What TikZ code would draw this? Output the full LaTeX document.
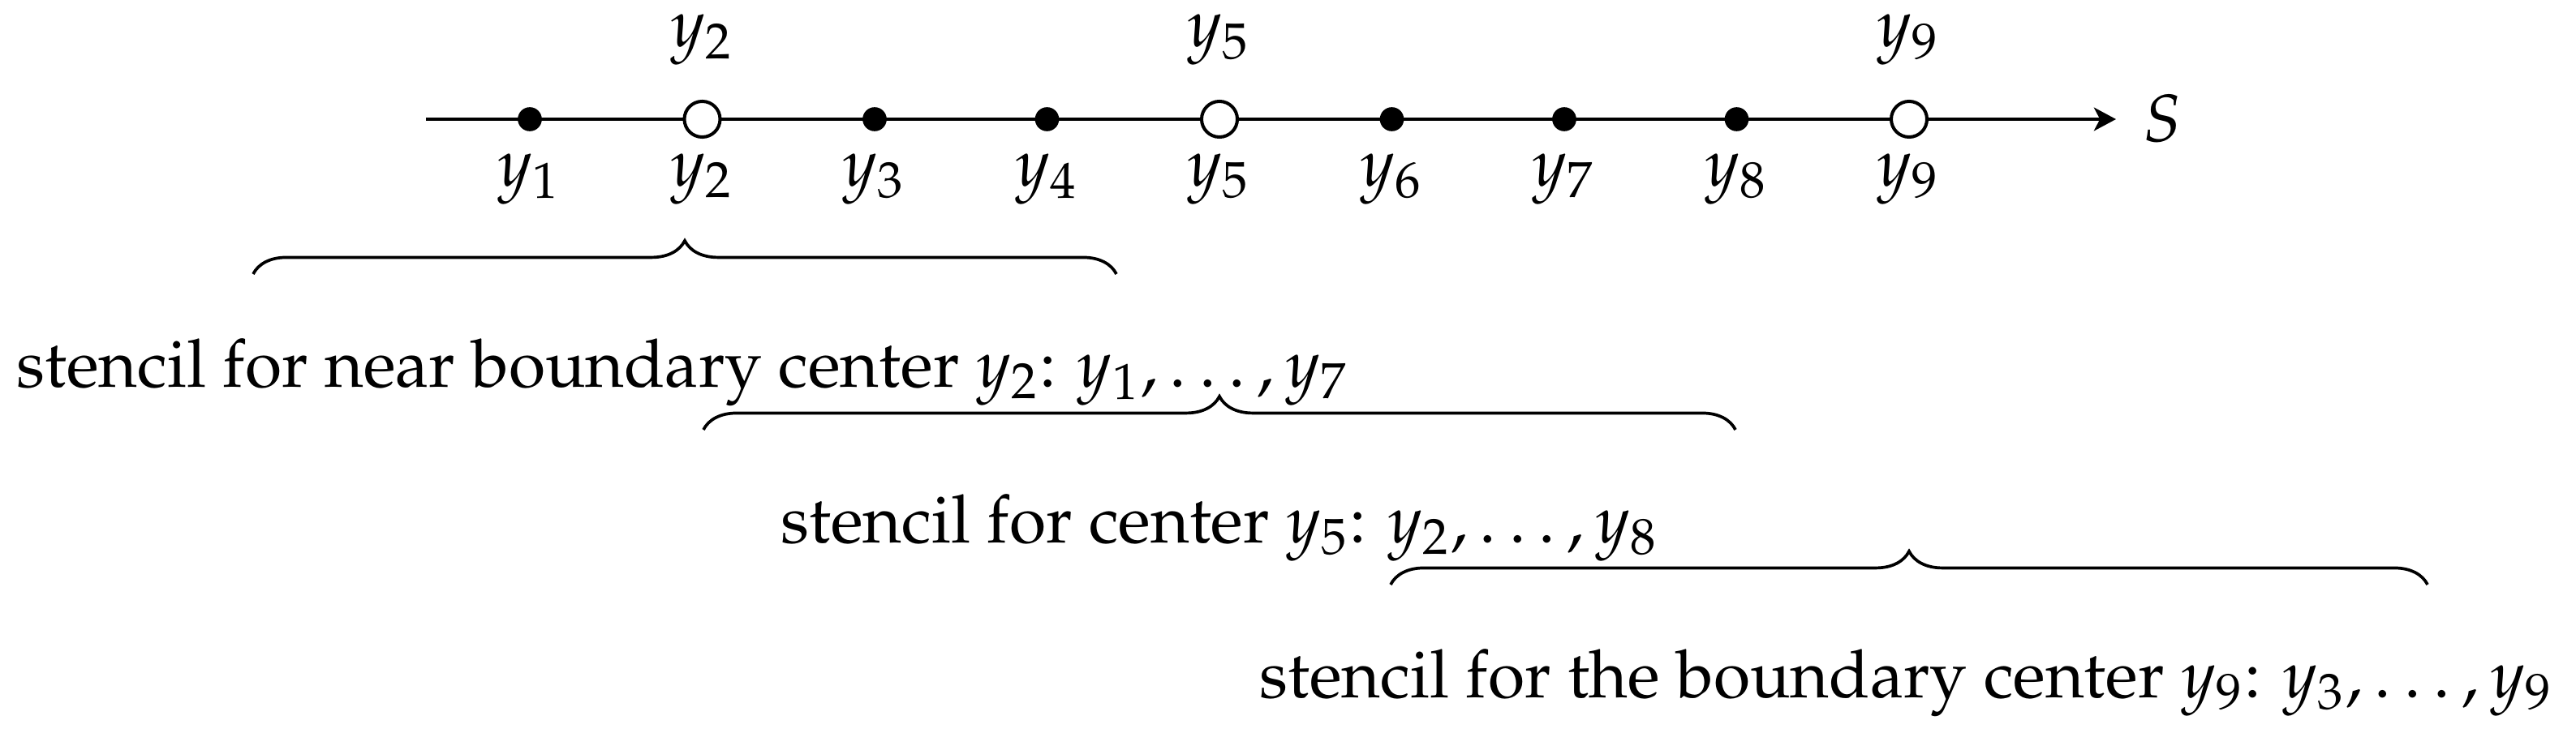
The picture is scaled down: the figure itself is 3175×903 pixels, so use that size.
\documentclass[tikz,border=0pt]{standalone}
\usepackage[T1]{fontenc}
\usepackage{mathpazo}
\usetikzlibrary{arrows.meta,decorations.pathreplacing}
\tikzset{
  px/.style={x=0.1215pt,y=-0.1215pt},
  axisline/.style={line width=0.49pt,-{Stealth[length=3.3pt,width=3.5pt,inset=0.9pt]}},
  fulldot/.style={circle,fill=black,inner sep=0pt,minimum size=3.6pt},
  opendot/.style={circle,draw=black,fill=white,line width=0.49pt,inner sep=0pt,minimum size=5.35pt},
  ptlabel/.style={anchor=base,inner sep=0pt},
  stenciltext/.style={anchor=base west,inner sep=0pt},
  stencilbrace/.style={line width=0.45pt,decorate,decoration={brace,amplitude=5pt}}
}
\begin{document}
\begin{tikzpicture}[px]
\useasboundingbox (0,0) rectangle (3175,903);
% axis
\coordinate (a0) at (525,147);
\coordinate (a1) at (2608,147);
\draw[axisline] (a0) -- (a1);
\node[anchor=base west,inner sep=0pt] (S) at (2640,175) {$S$};
% points
\node[fulldot] (p1) at (653,147) {};
\node[opendot] (p2) at (865.5,147) {};
\node[fulldot] (p3) at (1078,147) {};
\node[fulldot] (p4) at (1290.5,147) {};
\node[opendot] (p5) at (1503,147) {};
\node[fulldot] (p6) at (1715.5,147) {};
\node[fulldot] (p7) at (1928,147) {};
\node[fulldot] (p8) at (2140.5,147) {};
\node[opendot] (p9) at (2353,147) {};
% labels below
\node[ptlabel] (l1) at (653,229) {$y_1$};
\node[ptlabel] (l2) at (865.5,229) {$y_2$};
\node[ptlabel] (l3) at (1078,229) {$y_3$};
\node[ptlabel] (l4) at (1290.5,229) {$y_4$};
\node[ptlabel] (l5) at (1503,229) {$y_5$};
\node[ptlabel] (l6) at (1715.5,229) {$y_6$};
\node[ptlabel] (l7) at (1928,229) {$y_7$};
\node[ptlabel] (l8) at (2140.5,229) {$y_8$};
\node[ptlabel] (l9) at (2353,229) {$y_9$};
% labels above
\node[ptlabel] (u2) at (865.5,58) {$y_2$};
\node[ptlabel] (u5) at (1503,58) {$y_5$};
\node[ptlabel] (u9) at (2353,58) {$y_9$};
% braces
\coordinate (b1l) at (312,338);
\coordinate (b1r) at (1376,338);
\coordinate (b2l) at (867,530);
\coordinate (b2r) at (2139,530);
\coordinate (b3l) at (1714,721);
\coordinate (b3r) at (2992,721);
\draw[stencilbrace] (b1l) -- (b1r);
\draw[stencilbrace] (b2l) -- (b2r);
\draw[stencilbrace] (b3l) -- (b3r);
% texts
\node[stenciltext] (t1) at (19,477) {stencil for near boundary center $y_2$: $y_1,\dots,y_7$};
\node[stenciltext] (t2) at (961,669) {stencil for center $y_5$: $y_2,\dots,y_8$};
\node[stenciltext] (t3) at (1551,860) {stencil for the boundary center $y_9$: $y_3,\dots,y_9$};
\end{tikzpicture}
\end{document}
